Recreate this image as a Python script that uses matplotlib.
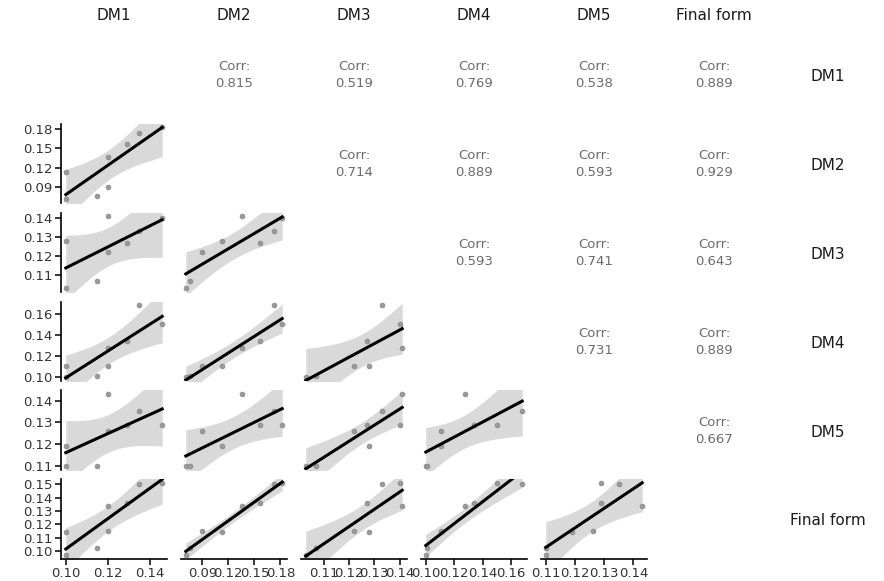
import numpy as np
import matplotlib
matplotlib.use("Agg")
import matplotlib.pyplot as plt

plt.rcParams['font.family'] = ['DejaVu Sans']

names = ["DM1", "DM2", "DM3", "DM4", "DM5", "Final form"]

dm1 = [0.100, 0.100, 0.115, 0.120, 0.120, 0.129, 0.135, 0.146]
dm2 = [0.113, 0.071, 0.076, 0.090, 0.136, 0.157, 0.173, 0.182]
dm3 = [0.128, 0.103, 0.107, 0.122, 0.141, 0.127, 0.133, 0.140]
dm4 = [0.111, 0.100, 0.101, 0.111, 0.128, 0.134, 0.168, 0.150]
dm5 = [0.119, 0.110, 0.110, 0.126, 0.143, 0.129, 0.135, 0.129]
final = [0.114, 0.097, 0.102, 0.115, 0.134, 0.136, 0.150, 0.151]
data = [dm1, dm2, dm3, dm4, dm5, final]

# correlation labels of the upper triangle, row by row
corr_labels = [
    ["0.815", "0.519", "0.769", "0.538", "0.889"],
    ["0.714", "0.889", "0.593", "0.929"],
    ["0.593", "0.741", "0.643"],
    ["0.731", "0.889"],
    ["0.667"],
]

tick_sets = [
    [0.10, 0.12, 0.14],
    [0.09, 0.12, 0.15, 0.18],
    [0.11, 0.12, 0.13, 0.14],
    [0.10, 0.12, 0.14, 0.16],
    [0.11, 0.12, 0.13, 0.14],
    [0.10, 0.11, 0.12, 0.13, 0.14, 0.15],
]

W, H = 884, 581
fig = plt.figure(figsize=(W / 100, H / 100), dpi=100)

col_left0, col_pitch, col_w = 61, 120, 106
row_top0, row_pitch, row_h = 34.8, 88.9, 79.3
t975 = 2.4469  # t quantile, df = 6


def lims(v):
    v = np.asarray(v)
    lo, hi = v.min(), v.max()
    pad = (hi - lo) * 0.05
    return lo - pad, hi + pad


n = len(names)
for i in range(n):
    for j in range(n):
        left = col_left0 + col_pitch * j
        top = row_top0 + row_pitch * i
        ax = fig.add_axes([left / W, 1 - (top + row_h) / H, col_w / W, row_h / H])
        for s in ax.spines.values():
            s.set_visible(False)
        ax.set_xticks([])
        ax.set_yticks([])
        ax.patch.set_alpha(0)

        if j > i:
            txt = corr_labels[i][j - i - 1]
            ax.text(0.5, 0.594, "Corr:", ha='center', va='center',
                    fontsize=9.5, color='#6b6b6b', transform=ax.transAxes)
            ax.text(0.5, 0.38, txt, ha='center', va='center',
                    fontsize=9.5, color='#6b6b6b', transform=ax.transAxes)
            continue
        if j == i:
            continue

        x = np.asarray(data[j])
        y = np.asarray(data[i])
        ax.set_xlim(*lims(x))
        ax.set_ylim(*lims(y))

        # linear fit with 95% confidence band
        b, a = np.polyfit(x, y, 1)
        xs = np.linspace(x.min(), x.max(), 80)
        fit = a + b * xs
        resid = y - (a + b * x)
        s_err = np.sqrt(np.sum(resid ** 2) / (len(x) - 2))
        sxx = np.sum((x - x.mean()) ** 2)
        se = s_err * np.sqrt(1 / len(x) + (xs - x.mean()) ** 2 / sxx)

        ax.fill_between(xs, fit - t975 * se, fit + t975 * se,
                        color='#d9d9d9', linewidth=0, zorder=2)
        ax.scatter(x, y, s=12, color='#9a9a9a', edgecolor='#858585',
                   linewidth=0.5, zorder=3)
        ax.plot(xs, fit, color='black', lw=2.2, zorder=4)

        if j == 0:
            ax.spines['left'].set_visible(True)
            ax.spines['left'].set_linewidth(1.2)
            ax.set_yticks(tick_sets[i])
            ax.set_yticklabels(["%.2f" % t for t in tick_sets[i]])
        if i == n - 1:
            ax.spines['bottom'].set_visible(True)
            ax.spines['bottom'].set_linewidth(1.2)
            ax.set_xticks(tick_sets[j])
            ax.set_xticklabels(["%.2f" % t for t in tick_sets[j]])
        ax.tick_params(length=4, width=1.1, color='black',
                       labelsize=9.5, labelcolor='#333333', pad=2)

# column headers on top, row labels on the right
for j, name in enumerate(names):
    cx = col_left0 + col_pitch * j + col_w / 2
    fig.text(cx / W, 1 - 15 / H, name, ha='center', va='center',
             fontsize=11, color='#1a1a1a')
for i, name in enumerate(names):
    cy = row_top0 + row_pitch * i + row_h / 2 + 2
    fig.text(828 / W, 1 - cy / H, name, ha='center', va='center',
             fontsize=11, color='#1a1a1a')

fig.savefig("out.png", dpi=100)
